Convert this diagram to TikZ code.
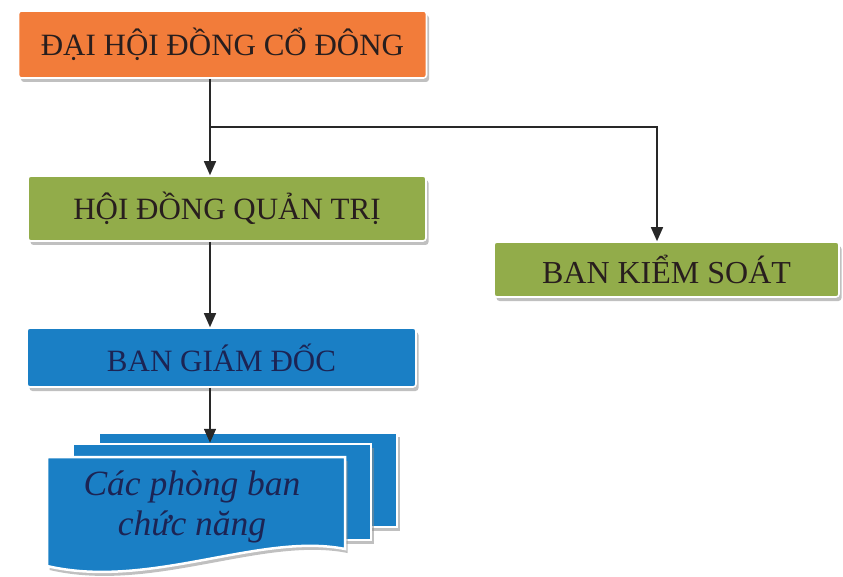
\documentclass[tikz,border=0pt]{standalone}
\usepackage{fontspec}
\setmainfont{Liberation Serif}
\usetikzlibrary{arrows.meta,shadows}

\definecolor{BoardOrange}{RGB}{242,124,58}
\definecolor{BoardGreen}{RGB}{146,172,74}
\definecolor{BoardBlue}{RGB}{26,127,197}
\definecolor{BoardText}{RGB}{40,30,30}
\definecolor{BoardNavy}{RGB}{28,36,84}
\definecolor{BoardLine}{RGB}{40,40,40}

\tikzset{
    boxshadow/.style={drop shadow={shadow xshift=2.5pt, shadow yshift=-4pt, fill=black!45, opacity=0.55}},
    orgbox/.style={draw=white, line width=1.6pt, rounded corners=3pt, inner sep=0pt, text=BoardText, font=\fontsize{31}{36}\selectfont, boxshadow},
    page/.style={draw=white, line width=2.5pt, fill=BoardBlue, inner sep=0pt, boxshadow},
    link/.style={draw=BoardLine, line width=1.5pt, -{Triangle[length=14pt,width=12pt]}}
}

\begin{document}
\begin{tikzpicture}[x=1pt, y=-1pt]
                \useasboundingbox (0,0) rectangle (843,577);
                % boxes
                \node[orgbox, fill=BoardOrange, minimum width=408pt, minimum height=67pt] (dhdcd) at (222.5,44.5) {ĐẠI HỘI ĐỒNG CỔ ĐÔNG};
                \node[orgbox, fill=BoardGreen, minimum width=398pt, minimum height=65pt] (hdqt) at (227,208.5) {HỘI ĐỒNG QUẢN TRỊ};
                \node[orgbox, fill=BoardGreen, minimum width=345pt, minimum height=55pt, font=\fontsize{32}{36}\selectfont] (bks) at (666.5,269.5) {BAN KIỂM SOÁT};
                \node[orgbox, fill=BoardBlue, minimum width=389pt, minimum height=59pt, text=BoardNavy] (bgd) at (221.5,357.5) {BAN GIÁM ĐỐC};

                % stacked pages
                \node[page, minimum width=298pt, minimum height=94pt] (pg3) at (248,480) {};
                \node[page, minimum width=298pt, minimum height=96pt] (pg2) at (222,492) {};
                \path[page] (47,457) -- (345,457) -- (345,549) .. controls (260,532) and (150,590) .. (47,566) -- cycle;
                \node[text=BoardNavy, font=\itshape\fontsize{35.5}{40}\selectfont, align=center] (phongban) at (192,507) {Các phòng ban\\chức năng};

                % connectors
                \coordinate (split) at (210,127);
                \coordinate (corner) at (657,127);
                \draw[link] (dhdcd.south -| split) -- (hdqt.north -| split);
                \draw[link] (split) -- (corner) -- (bks.north -| corner);
                \draw[link] (hdqt.south -| split) -- (bgd.north -| split);
                \draw[link] (bgd.south -| split) -- (pg2.north -| split);
            \end{tikzpicture}
\end{document}
